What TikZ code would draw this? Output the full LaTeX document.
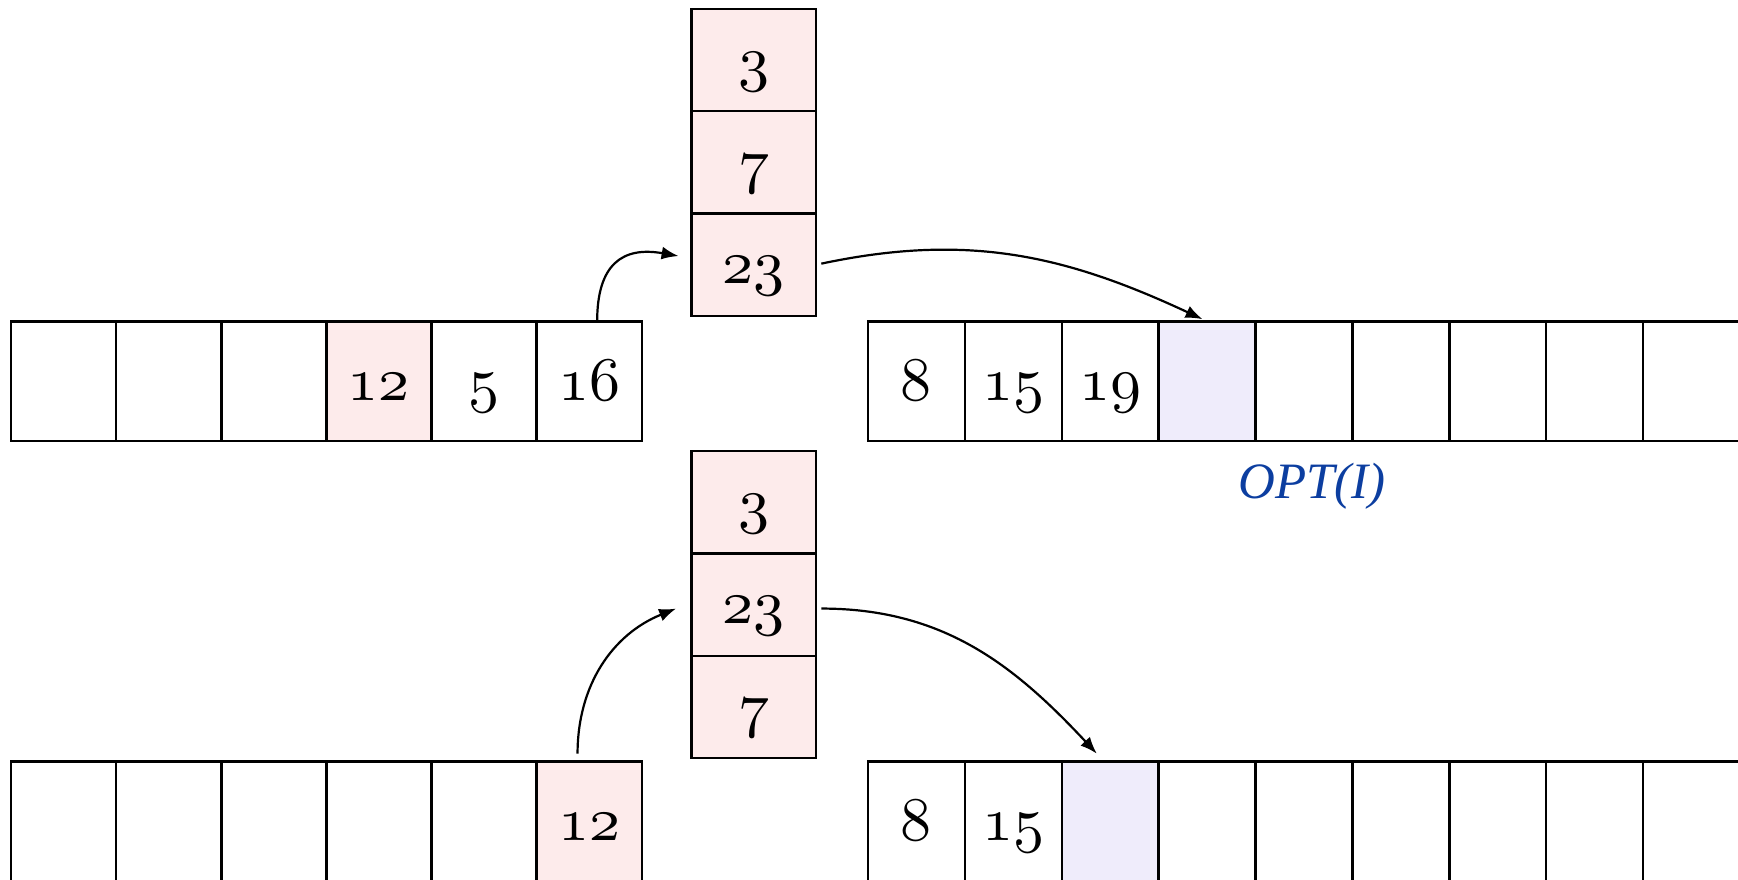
\documentclass[tikz,border=0pt]{standalone}
\usepackage{fontspec}
\usetikzlibrary{arrows.meta}
\newfontfamily\optfont{Liberation Serif}
% old-style figures of the math italic font, at cell size
\font\cellfont=cmmi10 at 62pt
\definecolor{cellred}{RGB}{253,235,235}
\definecolor{celllav}{RGB}{239,236,251}
\definecolor{optblue}{RGB}{12,62,160}
\tikzset{
  cell/.style={draw, line width=2.4pt, inner sep=0pt, outer sep=0pt,
    minimum height=119.7pt, text height=38pt, text depth=0pt,
    font=\cellfont},
  wide/.style={cell, minimum width=105.1pt},
  narrow/.style={cell, minimum width=96.9pt},
  stackcell/.style={cell, minimum width=124.2pt, minimum height=102.3pt, fill=cellred},
  hot/.style={fill=cellred},
  slot/.style={fill=celllav},
  link/.style={line width=2.2pt, -{Latex[length=17pt,width=13pt]}},
}
\begin{document}
\begin{tikzpicture}[x=1pt,y=1pt]
\clip[use as bounding box] (0,0) rectangle (1738,-880);

% upper input row
\node[wide]      (L0) at (63.65,-381.25) {};
\node[wide]      (L1) at (168.75,-381.25) {};
\node[wide]      (L2) at (273.85,-381.25) {};
\node[wide,hot]  (L3) at (378.95,-381.25) {12};
\node[wide]      (L4) at (484.05,-381.25) {5};
\node[wide]      (L5) at (589.15,-381.25) {16};

% upper stack
\node[stackcell] (S0) at (753.7,-60.05) {3};
\node[stackcell] (S1) at (753.7,-162.35) {7};
\node[stackcell] (S2) at (753.7,-264.65) {23};

% upper output row
\node[narrow]      (R0) at (916.35,-381.25) {8};
\node[narrow]      (R1) at (1013.25,-381.25) {15};
\node[narrow]      (R2) at (1110.15,-381.25) {19};
\node[narrow,slot] (R3) at (1207.05,-381.25) {};
\foreach \i in {4,...,9}
  \node[narrow] (R\i) at ({916.35+96.9*\i},-381.25) {};

\node[anchor=base, text=optblue, font=\fontsize{51}{60}\optfont\itshape]
  (opt) at (1312,-498) {OPT(I)};

% lower input row
\foreach \i in {0,...,4}
  \node[wide] (BL\i) at ({63.65+105.1*\i},-821.35) {};
\node[wide,hot] (BL5) at (589.15,-821.35) {12};

% lower stack
\node[stackcell] (T0) at (753.7,-502.25) {3};
\node[stackcell] (T1) at (753.7,-604.55) {23};
\node[stackcell] (T2) at (753.7,-706.85) {7};

% lower output row
\node[narrow]      (BR0) at (916.35,-821.35) {8};
\node[narrow]      (BR1) at (1013.25,-821.35) {15};
\node[narrow,slot] (BR2) at (1110.15,-821.35) {};
\foreach \i in {3,...,9}
  \node[narrow] (BR\i) at ({916.35+96.9*\i},-821.35) {};

% moves
\draw[link] ([xshift=8pt]L5.north) to[out=90,in=170,looseness=1.4]
  ([xshift=-13pt,yshift=8.6pt]S2.west);
\draw[link] ([xshift=5.5pt,yshift=1pt]S2.east) to[out=12,in=155]
  ([xshift=-4.5pt,yshift=2.2pt]R3.north);
\draw[link] ([xshift=-11.6pt,yshift=7.8pt]BL5.north) to[out=90,in=202]
  ([xshift=-15.5pt,yshift=-4pt]T1.west);
\draw[link] ([xshift=5.5pt,yshift=-4pt]T1.east) to[out=0,in=133]
  ([xshift=-13.3pt,yshift=7.8pt]BR2.north);
\end{tikzpicture}
\end{document}
